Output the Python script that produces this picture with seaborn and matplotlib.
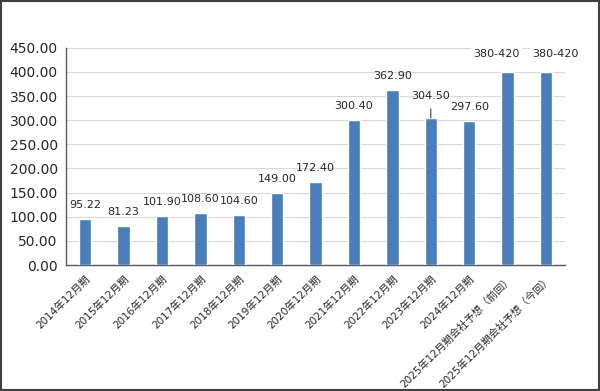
import matplotlib
matplotlib.use("Agg")
import matplotlib.pyplot as plt
import pandas as pd
import seaborn as sns

periods = [
    "2014年12月期", "2015年12月期", "2016年12月期", "2017年12月期", "2018年12月期",
    "2019年12月期", "2020年12月期", "2021年12月期", "2022年12月期", "2023年12月期",
    "2024年12月期", "2025年12月期会社予想（前回）", "2025年12月期会社予想（今回）",
]
values = [95.22, 81.23, 101.90, 108.60, 104.60, 149.00, 172.40, 300.40, 362.90, 304.50, 297.60, 400.0, 400.0]
value_labels = ["95.22", "81.23", "101.90", "108.60", "104.60", "149.00", "172.40",
                "300.40", "362.90", "304.50", "297.60", "380-420", "380-420"]
y_ticks = [0, 50, 100, 150, 200, 250, 300, 350, 400, 450]

sns.set_style("white")
plt.rcParams["font.family"] = ["DejaVu Sans", "Noto Sans CJK JP"]

df = pd.DataFrame({"period": periods, "value": values})

fig = plt.figure(figsize=(6, 3.91), dpi=100)
ax = fig.add_axes([0.11, 0.322, 0.832, 0.556])
sns.barplot(data=df, x="period", y="value", color="#4a7ebb", saturation=1,
            width=0.32, ax=ax, zorder=3)

ax.set_ylim(0, 450)
ax.set_yticks(y_ticks)
ax.set_yticklabels([f"{t:.2f}" for t in y_ticks], fontsize=10, color="#262626")
ax.yaxis.grid(True, color="#d9d9d9", linewidth=0.8, zorder=0)
ax.set_xlim(-0.5, len(periods) - 0.5)
ax.set_xlabel("")
ax.set_ylabel("")
ax.tick_params(axis="both", length=0, pad=6)
plt.setp(ax.get_xticklabels(), rotation=45, ha="right", rotation_mode="anchor",
         fontsize=7.5, color="#262626", family=["DejaVu Sans", "Noto Sans CJK JP"])

for side in ["top", "right"]:
    ax.spines[side].set_visible(False)
for side in ["left", "bottom"]:
    ax.spines[side].set_color("#595959")
    ax.spines[side].set_linewidth(1.0)

for i, (v, lab) in enumerate(zip(values, value_labels)):
    if lab == "304.50":
        ax.annotate(lab, xy=(i, v), xytext=(0, 12), textcoords="offset points",
                    ha="center", va="bottom", fontsize=8, color="#262626",
                    arrowprops=dict(arrowstyle="-", color="#404040", lw=0.8, shrinkA=3, shrinkB=0),
                    zorder=5)
    elif lab == "380-420":
        dx = -8 if i == len(values) - 2 else 7
        ax.annotate(lab, xy=(i, v), xytext=(dx, 9), textcoords="offset points",
                    ha="center", va="bottom", fontsize=8, color="#262626",
                    bbox=dict(facecolor="white", edgecolor="none", pad=1.5), zorder=5)
    else:
        ax.annotate(lab, xy=(i, v), xytext=(0, 6.5), textcoords="offset points",
                    ha="center", va="bottom", fontsize=8, color="#262626", zorder=5)

border = plt.Rectangle((0.002, 0.003), 0.996, 0.994, transform=fig.transFigure,
                       fill=False, edgecolor="#404040", linewidth=1.5)
fig.patches.append(border)

fig.savefig("out.png", dpi=100, facecolor="white")
